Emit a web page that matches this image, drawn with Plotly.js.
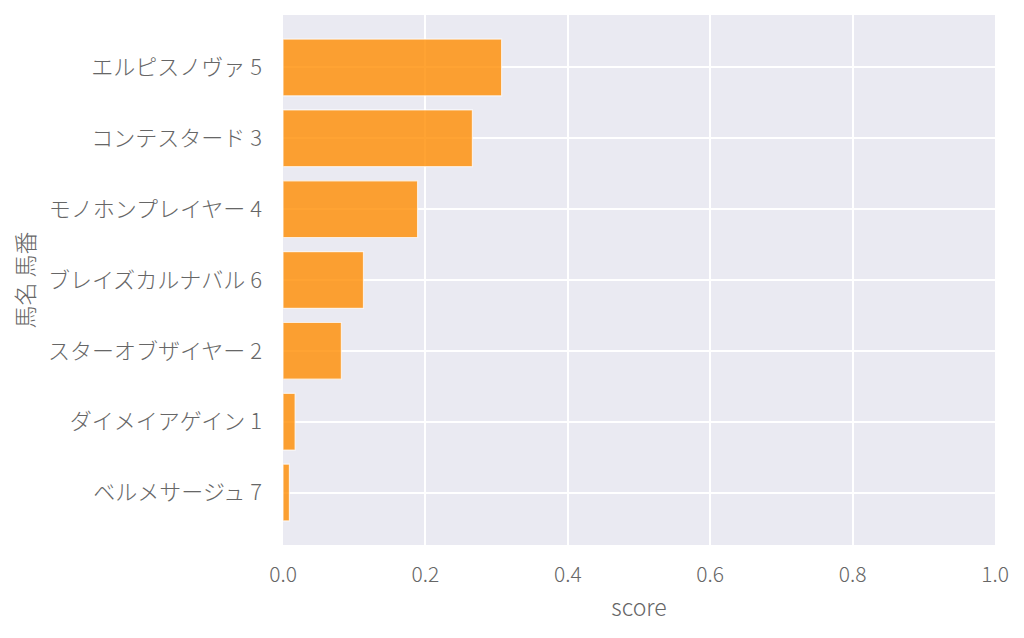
<!DOCTYPE html>
<html>
<head>
<meta charset="utf-8">
<script src="https://cdn.plot.ly/plotly-3.0.1.min.js"></script>
<style>html,body{margin:0;padding:0;background:#fff;}#chart{width:1024px;height:638px;}</style>
</head>
<body>
<div id="chart"></div>
<script>
const horses = ["エルピスノヴァ 5", "コンテスタード 3", "モノホンプレイヤー 4", "ブレイズカルナバル 6", "スターオブザイヤー 2", "ダイメイアゲイン 1", "ベルメサージュ 7"];
const scores = [0.307, 0.266, 0.189, 0.113, 0.082, 0.017, 0.009];
const xTicks = [0, 0.2, 0.4, 0.6, 0.8, 1.0];
const xTickText = ["0.0", "0.2", "0.4", "0.6", "0.8", "1.0"];

const fontFam = '"Noto Sans CJK JP Light", "Noto Sans CJK JP", "Noto Sans", sans-serif';
const trace = {
  type: 'bar',
  orientation: 'h',
  x: scores,
  y: horses,
  width: 0.8,
  marker: {color: 'rgba(255,140,0,0.8)', line: {color: 'rgba(255,255,255,0.7)', width: 1.2}},
  hoverinfo: 'x+y'
};
const layout = {
  width: 1024, height: 638,
  margin: {l: 283, r: 29, t: 15, b: 93},
  paper_bgcolor: '#ffffff',
  plot_bgcolor: '#EAEAF2',
  font: {family: fontFam, color: '#666666', size: 21, weight: 300},
  showlegend: false,
  bargap: 0.2,
  xaxis: {
    range: [0, 1], tickvals: xTicks, ticktext: xTickText,
    showgrid: true, gridcolor: '#ffffff', gridwidth: 2,
    zeroline: false, showline: false, ticks: '',
    tickfont: {size: 21, family: fontFam, color: '#666666', weight: 300},
    ticklabelstandoff: 15,
    title: {text: 'score', font: {size: 23, family: fontFam, color: '#666666', weight: 300}, standoff: 12}
  },
  yaxis: {
    type: 'category', categoryorder: 'array', categoryarray: horses,
    range: [6.74, -0.74],
    showgrid: true, gridcolor: '#ffffff', gridwidth: 2,
    zeroline: false, showline: false, ticks: '',
    tickfont: {size: 22, family: fontFam, color: '#666666', weight: 300},
    ticklabelstandoff: 20,
    title: {text: '馬名 馬番', font: {size: 23, family: fontFam, color: '#666666', weight: 300}, standoff: 6}
  }
};
Plotly.newPlot('chart', [trace], layout, {displayModeBar: false, staticPlot: true});
</script>
</body>
</html>
